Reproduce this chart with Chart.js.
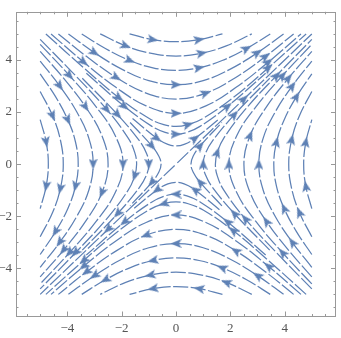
<!DOCTYPE html>
<html>
<head>
<meta charset="utf-8">
<script src="https://cdn.jsdelivr.net/npm/chart.js@4.4.0/dist/chart.umd.min.js"></script>
<style>
  html, body { margin: 0; padding: 0; background: #fff; }
  #wrap { width: 341px; height: 338px; }
</style>
</head>
<body>
<div id="wrap"><canvas id="chart" width="341" height="338"></canvas></div>
<script>
// streamlines of the saddle, each listed in flow direction
const topLines = [
  [[-1.71,5],[-0.85,4.78],[0,4.7],[0.85,4.78],[1.71,5]],
  [[-2.79,5],[-1.85,4.54],[-0.95,4.26],[0,4.15],[0.95,4.26],[1.85,4.54],[2.79,5]],
  [[-3.47,5],[-2.6,4.44],[-1.7,3.98],[-0.85,3.7],[0,3.6],[0.85,3.7],[1.7,3.98],[2.6,4.44],[3.47,5]],
  [[-3.96,5],[-3,4.28],[-2,3.65],[-1,3.21],[0,3.05],[1,3.21],[2,3.65],[3,4.28],[3.96,5]],
  [[-4.33,5],[-3.3,4.14],[-2.2,3.33],[-1.1,2.73],[0,2.5],[1.1,2.73],[2.2,3.33],[3.3,4.14],[4.33,5]],
  [[-4.6,5],[-3.4,3.92],[-2.2,2.94],[-1.1,2.24],[0,1.95],[1.1,2.24],[2.2,2.94],[3.4,3.92],[4.6,5]],
  [[-4.79,5],[-3.4,3.7],[-2.1,2.55],[-1,1.76],[-0.45,1.52],[0,1.45],[0.45,1.52],[1,1.76],[2.1,2.55],[3.4,3.7],[4.79,5]],
  [[-3.3,3.49],[-1.9,2.22],[-0.9,1.46],[-0.4,1.22],[0,1.15],[0.4,1.22],[0.9,1.46],[1.9,2.22],[3.3,3.49]],
  [[-1.6,1.75],[-0.7,0.99],[-0.3,0.76],[0,0.7],[0.3,0.76],[0.7,0.99],[1.6,1.75]]
];
const bottomLines = [
  [[1.71,-5],[0.85,-4.78],[0,-4.7],[-0.85,-4.78],[-1.71,-5]],
  [[2.79,-5],[1.85,-4.54],[0.95,-4.26],[0,-4.15],[-0.95,-4.26],[-1.85,-4.54],[-2.79,-5]],
  [[3.47,-5],[2.6,-4.44],[1.7,-3.98],[0.85,-3.7],[0,-3.6],[-0.85,-3.7],[-1.7,-3.98],[-2.6,-4.44],[-3.47,-5]],
  [[3.96,-5],[3,-4.28],[2,-3.65],[1,-3.21],[0,-3.05],[-1,-3.21],[-2,-3.65],[-3,-4.28],[-3.96,-5]],
  [[4.33,-5],[3.3,-4.14],[2.2,-3.33],[1.1,-2.73],[0,-2.5],[-1.1,-2.73],[-2.2,-3.33],[-3.3,-4.14],[-4.33,-5]],
  [[4.6,-5],[3.4,-3.92],[2.2,-2.94],[1.1,-2.24],[0,-1.95],[-1.1,-2.24],[-2.2,-2.94],[-3.4,-3.92],[-4.6,-5]],
  [[4.79,-5],[3.4,-3.7],[2.1,-2.55],[1,-1.76],[0.45,-1.52],[0,-1.45],[-0.45,-1.52],[-1,-1.76],[-2.1,-2.55],[-3.4,-3.7],[-4.79,-5]],
  [[3.3,-3.49],[1.9,-2.22],[0.9,-1.46],[0.4,-1.22],[0,-1.15],[-0.4,-1.22],[-0.9,-1.46],[-1.9,-2.22],[-3.3,-3.49]],
  [[1.6,-1.75],[0.7,-0.99],[0.3,-0.76],[0,-0.7],[-0.3,-0.76],[-0.7,-0.99],[-1.6,-1.75]]
];
const leftLines = [
  [[-5,1.71],[-4.78,0.85],[-4.7,0],[-4.78,-0.85],[-5,-1.71]],
  [[-5,2.79],[-4.54,1.85],[-4.26,0.95],[-4.15,0],[-4.26,-0.95],[-4.54,-1.85],[-5,-2.79]],
  [[-5,3.47],[-4.44,2.6],[-3.98,1.7],[-3.7,0.85],[-3.6,0],[-3.7,-0.85],[-3.98,-1.7],[-4.44,-2.6],[-5,-3.47]],
  [[-5,3.96],[-4.28,3],[-3.65,2],[-3.21,1],[-3.05,0],[-3.21,-1],[-3.65,-2],[-4.28,-3],[-5,-3.96]],
  [[-5,4.33],[-4.14,3.3],[-3.33,2.2],[-2.73,1.1],[-2.5,0],[-2.73,-1.1],[-3.33,-2.2],[-4.14,-3.3],[-5,-4.33]],
  [[-5,4.6],[-3.92,3.4],[-2.94,2.2],[-2.24,1.1],[-1.95,0],[-2.24,-1.1],[-2.94,-2.2],[-3.92,-3.4],[-5,-4.6]],
  [[-5,4.79],[-3.7,3.4],[-2.55,2.1],[-1.76,1],[-1.52,0.45],[-1.45,0],[-1.52,-0.45],[-1.76,-1],[-2.55,-2.1],[-3.7,-3.4],[-5,-4.79]],
  [[-3.45,3.3],[-2.15,1.9],[-1.35,0.9],[-1.08,0.4],[-1,0],[-1.08,-0.4],[-1.35,-0.9],[-2.15,-1.9],[-3.45,-3.3]],
  [[-1.69,1.6],[-0.89,0.7],[-0.63,0.3],[-0.55,0],[-0.63,-0.3],[-0.89,-0.7],[-1.69,-1.6]]
];
const rightLines = [
  [[5,-1.71],[4.78,-0.85],[4.7,0],[4.78,0.85],[5,1.71]],
  [[5,-2.79],[4.54,-1.85],[4.26,-0.95],[4.15,0],[4.26,0.95],[4.54,1.85],[5,2.79]],
  [[5,-3.47],[4.44,-2.6],[3.98,-1.7],[3.7,-0.85],[3.6,0],[3.7,0.85],[3.98,1.7],[4.44,2.6],[5,3.47]],
  [[5,-3.96],[4.28,-3],[3.65,-2],[3.21,-1],[3.05,0],[3.21,1],[3.65,2],[4.28,3],[5,3.96]],
  [[5,-4.33],[4.14,-3.3],[3.33,-2.2],[2.73,-1.1],[2.5,0],[2.73,1.1],[3.33,2.2],[4.14,3.3],[5,4.33]],
  [[5,-4.6],[3.92,-3.4],[2.94,-2.2],[2.24,-1.1],[1.95,0],[2.24,1.1],[2.94,2.2],[3.92,3.4],[5,4.6]],
  [[5,-4.79],[3.7,-3.4],[2.55,-2.1],[1.76,-1],[1.52,-0.45],[1.45,0],[1.52,0.45],[1.76,1],[2.55,2.1],[3.7,3.4],[5,4.79]],
  [[3.45,-3.3],[2.15,-1.9],[1.35,-0.9],[1.08,-0.4],[1,0],[1.08,0.4],[1.35,0.9],[2.15,1.9],[3.45,3.3]],
  [[1.69,-1.6],[0.89,-0.7],[0.63,-0.3],[0.55,0],[0.63,0.3],[0.89,0.7],[1.69,1.6]]
];
const diagLines = [
  [[0.05,0.05],[2.5,2.5],[5,5]],
  [[-0.05,-0.05],[-2.5,-2.5],[-5,-5]]
];
// which points of each line carry an arrowhead
const lineArrows = [[1,3],[1,4],[2,5,7],[1,4,7],[2,5,7],[1,4,7],[2,6,9],[1,4,7],[1,5]];
const diagArrows = [[1],[1]];

const xTicks = [-4, -2, 0, 2, 4];
const yTicks = [-4, -2, 0, 2, 4];

const blue = '#5e81b5';

// slim arrowhead, pointing up, rotated per point
const arrow = document.createElement('canvas');
arrow.width = 9; arrow.height = 11;
const g = arrow.getContext('2d');
g.fillStyle = blue;
g.beginPath();
g.moveTo(4.5, 0); g.lineTo(9, 11); g.lineTo(4.5, 8.5); g.lineTo(0, 11);
g.closePath(); g.fill();

function heading(ctx) {
  const d = ctx.dataset.data, i = ctx.dataIndex;
  const a = d[Math.max(i - 1, 0)], b = d[Math.min(i + 1, d.length - 1)];
  const sx = ctx.chart.scales.x, sy = ctx.chart.scales.y;
  const dx = sx.getPixelForValue(b.x) - sx.getPixelForValue(a.x);
  const dy = sy.getPixelForValue(b.y) - sy.getPixelForValue(a.y);
  return Math.atan2(dy, dx) * 180 / Math.PI + 90;
}

function stream(line, arrows) {
  return {
    data: line.map(([x, y]) => ({x, y})),
    arrows,
    showLine: true,
    borderColor: blue,
    borderWidth: 1.25,
    borderDash: [15, 2.5],
    tension: 0.4,
    pointStyle: arrow,
    pointRadius: ctx => ctx.dataset.arrows.includes(ctx.dataIndex) ? 5 : 0,
    pointRotation: heading,
  };
}

const datasets = [];
[topLines, bottomLines, leftLines, rightLines].forEach(group =>
  group.forEach((line, i) => datasets.push(stream(line, lineArrows[i]))));
diagLines.forEach((line, i) => datasets.push(stream(line, diagArrows[i])));

const frameColor = '#999';

// frame with inward ticks on all four sides
const frame = {
  id: 'frame',
  afterDraw(chart) {
    const {ctx, chartArea: a, scales: {x, y}} = chart;
    ctx.save();
    ctx.strokeStyle = frameColor;
    ctx.lineWidth = 1;
    ctx.strokeRect(Math.round(a.left) + 0.5, Math.round(a.top) + 0.5,
      Math.round(a.width) - 1, Math.round(a.height) - 1);
    ctx.beginPath();
    for (let v = -5.5; v <= 5.5; v += 0.5) {
      const len = v % 2 === 0 ? 5 : 2.5;
      const px = Math.round(x.getPixelForValue(v)) + 0.5;
      ctx.moveTo(px, a.bottom); ctx.lineTo(px, a.bottom - len);
      ctx.moveTo(px, a.top); ctx.lineTo(px, a.top + len);
      const py = Math.round(y.getPixelForValue(v)) + 0.5;
      ctx.moveTo(a.left, py); ctx.lineTo(a.left + len, py);
      ctx.moveTo(a.right, py); ctx.lineTo(a.right - len, py);
    }
    ctx.stroke();
    ctx.restore();
  }
};

const label = v => v < 0 ? '\u2212' + Math.abs(v) : String(v);
const tickFont = {family: 'Liberation Serif', size: 13};

new Chart(document.getElementById('chart'), {
  type: 'scatter',
  data: {datasets},
  options: {
    responsive: false,
    animation: false,
    events: [],
    layout: {padding: {top: 3.5, right: 5, bottom: 0, left: 0}},
    plugins: {legend: {display: false}, tooltip: {enabled: false}},
    scales: {
      x: {
        min: -5.89, max: 5.89,
        grid: {display: false, drawTicks: false},
        border: {display: false},
        afterBuildTicks: s => { s.ticks = xTicks.map(v => ({value: v})); },
        afterFit: s => { s.height = 21.5; },
        ticks: {color: '#555', font: tickFont, padding: 4, callback: label, maxRotation: 0}
      },
      y: {
        min: -5.85, max: 5.85,
        grid: {display: false, drawTicks: false},
        border: {display: false},
        afterBuildTicks: s => { s.ticks = yTicks.map(v => ({value: v})); },
        afterFit: s => { s.width = 16; },
        ticks: {color: '#555', font: tickFont, padding: 4, callback: label}
      }
    }
  },
  plugins: [frame]
});
</script>
</body>
</html>
